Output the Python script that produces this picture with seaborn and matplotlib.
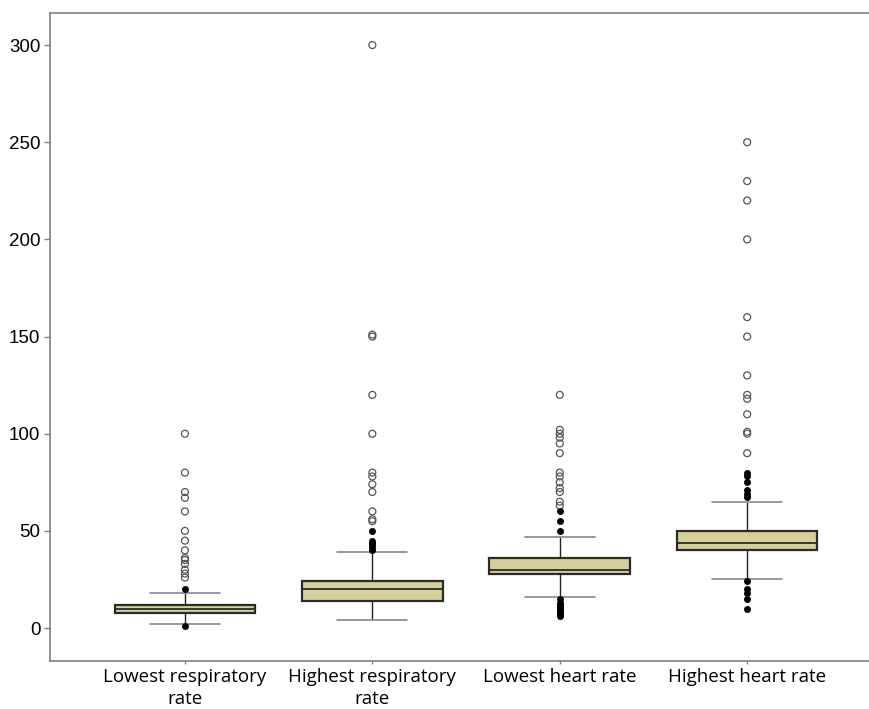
import numpy as np
import pandas as pd
import matplotlib
matplotlib.use("Agg")
import matplotlib.pyplot as plt
import seaborn as sns

categories = ["Lowest respiratory\nrate", "Highest respiratory\nrate",
              "Lowest heart rate", "Highest heart rate"]
y_ticks = [0, 50, 100, 150, 200, 250, 300]

# box statistics per category: lower whisker, Q1, median, Q3, upper whisker
whisker_low = [2, 4, 16, 25]
q1 = [8, 14, 28, 40]
median = [10, 20, 30, 44]
q3 = [12, 24, 36, 50]
whisker_high = [18, 39, 47, 65]

# near outliers (filled) and far outliers (open)
near_outliers = [
    [20, 1],
    [50, 45, 44, 43, 41.5, 40],
    [60, 55, 50, 15, 13, 12, 11, 10, 9, 8, 7, 6],
    [80, 78, 75, 71, 69, 67.5, 24, 20, 18, 15, 10],
]
far_outliers = [
    [100, 80, 70, 67, 60, 50, 45, 40, 36, 35, 33, 30, 28, 26],
    [300, 151, 150, 120, 100, 80, 78, 74, 70, 60, 56, 55],
    [120, 102, 100, 98, 95, 90, 80, 78, 75, 72, 70, 65, 63],
    [250, 230, 220, 200, 160, 150, 130, 120, 118, 110, 101, 100, 90],
]

box_df = pd.DataFrame({
    "cat": np.repeat(categories, 5),
    "val": np.column_stack([whisker_low, q1, median, q3, whisker_high]).ravel(),
})
near_df = pd.DataFrame({
    "cat": [c for c, vs in zip(categories, near_outliers) for _ in vs],
    "val": [v for vs in near_outliers for v in vs],
})
far_df = pd.DataFrame({
    "cat": [c for c, vs in zip(categories, far_outliers) for _ in vs],
    "val": [v for vs in far_outliers for v in vs],
})

sns.set_style("white")
plt.rcParams["font.family"] = ["Open Sans", "DejaVu Sans"]

fig = plt.figure(figsize=(8.69, 7.09), dpi=100)
ax = fig.add_axes([50 / 869, 1 - 660.7 / 709, 1 - 50 / 869, (660.7 - 13) / 709])

box_color = "#D5CF9A"
sns.boxplot(data=box_df, x="cat", y="val", order=categories, ax=ax,
            whis=(0, 100), width=0.75, showfliers=False,
            color=box_color, saturation=1, linewidth=1.3,
            boxprops=dict(facecolor=box_color, edgecolor="#2b2b2b", linewidth=1.6),
            medianprops=dict(color="#2b2b2b", linewidth=1.3),
            whiskerprops=dict(color="#222222", linewidth=1.0),
            capprops=dict(color="#888888", linewidth=1.2))
# make caps half the box width
for line in ax.lines:
    xd = line.get_xdata()
    yd = line.get_ydata()
    if len(xd) == 2 and yd[0] == yd[1] and abs(xd[1] - xd[0]) > 0.05 and line.get_color() == "#888888":
        c = (xd[0] + xd[1]) / 2
        line.set_xdata([c - 0.1875, c + 0.1875])

sns.stripplot(data=far_df, x="cat", y="val", order=categories, ax=ax,
              jitter=False, size=5, color="#555555",
              facecolors="none", edgecolor="#555555", linewidth=0.9, zorder=4)
sns.stripplot(data=near_df, x="cat", y="val", order=categories, ax=ax,
              jitter=False, size=5, color="black", linewidth=0, zorder=4)

ax.set_xlim(-0.72, 3.65)
ax.set_ylim(-16.8, 316.5)
ax.set_yticks(y_ticks)
ax.set_yticklabels([str(t) for t in y_ticks],
                   fontfamily=["Liberation Sans", "DejaVu Sans"], fontsize=13.5)
ax.set_xticks(range(len(categories)))
ax.set_xticklabels(categories, fontsize=13.5, linespacing=1.25)
ax.set_xlabel("")
ax.set_ylabel("")

for side in ["left", "bottom", "top"]:
    ax.spines[side].set_visible(True)
    ax.spines[side].set_color("#808080")
    ax.spines[side].set_linewidth(1.2)
ax.spines["right"].set_visible(False)

ax.tick_params(axis="y", left=True, length=4, width=1, color="#808080", pad=3,
               labelcolor="black")
ax.tick_params(axis="x", bottom=True, length=2.5, width=1, color="#808080", pad=3,
               labelcolor="black")

fig.savefig("out.png", dpi=100)
